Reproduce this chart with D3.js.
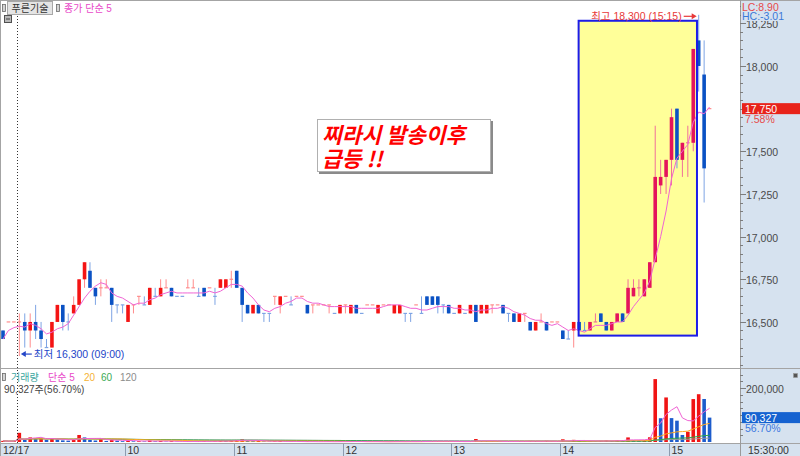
<!DOCTYPE html>
<html><head><meta charset="utf-8">
<script src="https://cdn.jsdelivr.net/npm/d3@7"></script>
<style>
html,body{margin:0;padding:0;background:#fff;}
svg{display:block;font-family:"Liberation Sans","Noto Sans CJK KR",sans-serif;}
</style></head><body>
<svg id="c" width="800" height="456"></svg>
<script>
// ---------- DATA ----------
const times = ["12/16 15:15","12/16 15:18","12/16 15:30",
"09:00","09:03","09:06","09:09","09:12","09:15","09:18","09:21","09:24","09:27","09:30","09:33","09:36","09:39","09:42","09:45","09:48","09:51","09:54","09:57",
"10:00","10:03","10:06","10:09","10:12","10:15","10:18","10:21","10:24","10:27","10:30","10:33","10:36","10:39","10:42","10:45","10:48","10:51","10:54","10:57",
"11:00","11:03","11:06","11:09","11:12","11:15","11:18","11:21","11:24","11:27","11:30","11:33","11:36","11:39","11:42","11:45","11:48","11:51","11:54","11:57",
"12:00","12:03","12:06","12:09","12:12","12:15","12:18","12:21","12:24","12:27","12:30","12:33","12:36","12:39","12:42","12:45","12:48","12:51","12:54","12:57",
"13:00","13:03","13:06","13:09","13:12","13:15","13:18","13:21","13:24","13:27","13:30","13:33","13:36","13:39","13:42","13:45","13:48","13:51","13:54","13:57",
"14:00","14:03","14:06","14:09","14:12","14:15","14:18","14:21","14:24","14:27","14:30","14:33","14:36","14:39","14:42","14:45","14:48","14:51","14:54","14:57",
"15:00","15:03","15:06","15:09","15:12","15:15","15:18","15:30"];

const opens = [16450,16500,16500,
16500,16500,16450,16500,16450,16350,16350,16500,16600,16500,
16550,16600,16750,16800,16700,16700,16700,16700,16600,16600,
16500,16600,16650,16600,16600,16650,16650,16700,16700,16650,
16650,16700,16700,16650,16700,16700,16650,16700,16700,16750,
16800,16700,16600,16550,16600,16550,16550,16650,16600,16650,
16600,16650,16650,16600,16600,16600,16600,16600,16550,16550,
16600,16550,16600,16550,16600,16600,16550,16600,16600,16550,
16550,16550,16550,16600,16550,16650,16650,16650,16600,16600,
16550,16550,16550,16550,16600,16550,16550,16600,16600,16600,
16550,16550,16500,16550,16500,16450,16500,16500,16500,16500,
16450,16400,16450,16500,16450,16450,16500,16550,16500,16450,
16500,16550,16550,16650,16700,16650,16700,16850,17300,17350,
17450,17750,17450,17550,17550,18150,17950,17750];

const highs = [16450,16500,16500,
16550,16550,16550,16600,16500,16400,16500,16600,16600,16550,
16650,16750,16850,16850,16700,16750,16750,16700,16600,16600,
16600,16600,16650,16650,16700,16700,16750,16750,16700,16650,
16650,16750,16750,16700,16700,16700,16700,16750,16750,16800,
16800,16700,16600,16600,16600,16550,16550,16650,16650,16650,
16650,16650,16650,16600,16600,16600,16600,16600,16550,16600,
16600,16600,16600,16550,16600,16600,16600,16600,16600,16600,
16600,16550,16550,16600,16650,16650,16650,16650,16600,16600,
16550,16600,16550,16600,16600,16600,16600,16600,16600,16600,
16550,16550,16550,16550,16500,16500,16550,16500,16500,16500,
16450,16450,16500,16500,16500,16500,16550,16550,16500,16500,
16550,16550,16750,16750,16750,16750,16850,17650,17450,17450,
17750,17750,17550,17650,18100,18300,18150,17750];

const lows = [16400,16500,16500,
16300,16350,16350,16400,16350,16350,16350,16500,16450,16450,
16550,16600,16700,16700,16600,16650,16700,16500,16550,16550,
16500,16550,16600,16600,16600,16650,16650,16700,16650,16650,
16650,16700,16700,16650,16650,16700,16600,16700,16700,16700,
16700,16500,16550,16550,16550,16500,16500,16600,16550,16650,
16600,16650,16650,16550,16550,16600,16600,16550,16550,16550,
16550,16550,16550,16550,16600,16600,16550,16600,16600,16550,
16550,16500,16500,16600,16550,16600,16600,16550,16550,16550,
16550,16550,16550,16550,16500,16550,16550,16550,16600,16550,
16500,16500,16500,16500,16450,16450,16500,16450,16500,16500,
16400,16400,16350,16450,16450,16450,16500,16500,16450,16450,
16500,16500,16550,16650,16650,16650,16700,16850,17250,17250,
17300,17400,17350,17350,17500,17850,17200,17750];

const closes = [16400,16500,16500,
16500,16450,16500,16450,16400,16350,16500,16600,16500,16500,
16600,16750,16850,16700,16650,16700,16700,16600,16600,16600,
16600,16600,16650,16600,16700,16650,16700,16700,16650,16650,
16650,16700,16700,16650,16650,16700,16650,16750,16750,16750,
16700,16600,16550,16600,16550,16550,16550,16650,16650,16650,
16600,16650,16650,16550,16600,16600,16600,16600,16550,16600,
16600,16600,16550,16550,16600,16600,16600,16600,16600,16600,
16600,16550,16550,16600,16550,16600,16600,16600,16600,16550,
16550,16600,16550,16600,16500,16600,16600,16600,16600,16550,
16550,16500,16550,16550,16450,16500,16500,16450,16500,16500,
16400,16400,16500,16450,16450,16500,16500,16500,16450,16500,
16550,16500,16700,16700,16700,16750,16850,17350,17350,17450,
17700,17450,17550,17550,18100,18000,17400,17750];

const volumes = [4200,2100,3500,
34000,9000,17000,12500,14000,8000,13000,9500,6000,5000,
9500,26000,17000,8000,5500,10500,4000,9000,5000,3000,
7000,2500,3000,2000,5500,2500,4000,1500,3000,1000,
1200,2200,1800,2500,3500,1500,2800,4500,3800,5200,
7500,10000,4200,3100,4800,2100,1500,2600,3900,1200,
1700,800,1100,2400,1300,600,900,1400,1000,2200,
1100,1900,2300,1200,700,900,2000,800,600,1800,
2100,1300,1600,900,2500,3200,2800,3500,1500,2600,
800,1900,1200,2400,11000,3400,2900,1500,1100,2800,
1600,3500,2400,1300,4100,3300,1700,4600,1200,1500,
10000,2800,8000,5200,2300,3600,1900,4300,5800,3900,
6200,4800,17000,7000,5000,7200,17500,233000,88000,165000,
88500,79000,26000,38000,159000,177000,159307,90327];

const hourTicks  = ["10:00","11:00","12:00","13:00","14:00","15:00"];
const hourLabels = ["10","11","12","13","14","15"];
const dateLabel = "12/17";
const dayStart = "09:00";
const priceTicks = [16500,16750,17000,17250,17500,17750,18000,18250];
const volTicks = [100000,200000];
const lastPrice = 17750, lastPct = "7.58%";
const lastVol = 90327, lastVolPct = "56.70%";
const lowLabel = {t:"09:00", v:16300, text:"최저 16,300 (09:00)"};
const highLabel = {t:"15:15", v:18300, text:"최고 18,300 (15:15)"};
const box = {from:"14:09", to:"15:15", lo:16420, hi:18265};
const noteLines = ["찌라시 발송이후","급등 !!"];

// ---------- SETUP ----------
const svg = d3.select("#c");
const n = times.length, step = 5.435;
const x = d3.scaleBand().domain(times).range([0.3, 0.3 + step*n]).padding(0);
const bw = x.bandwidth(), bodyW = 3.6;
const cx = t => x(t) + bw/2;
const y = d3.scaleLinear().domain([16236, 18375]).range([367, 2]);
const yv = d3.scaleLinear().domain([0, 200000]).range([442, 388]);
const fmt = d3.format(",");

const data = times.map((t,i)=>({t,i,o:opens[i],h:highs[i],l:lows[i],c:closes[i],v:volumes[i]}));
let prevDir = 1;
data.forEach((d,i)=>{
  let dir;
  if (d.c > d.o) dir = 1; else if (d.c < d.o) dir = -1;
  else { const pc = i>0 ? data[i-1].c : d.c; dir = d.c>pc ? 1 : d.c<pc ? -1 : prevDir; }
  d.dir = dir; prevDir = dir;
  d.vdir = i>0 ? (d.v >= data[i-1].v ? 1 : -1) : 1;
});
const bx1 = cx(box.from) - 0.5, bx2 = x(box.to) + 1;
data.forEach(d=>{ const c = cx(d.t); d.inBox = c > bx1 && c < bx2; });

function sma(arr,p){ return arr.map((_,i)=>d3.mean(arr.slice(Math.max(0,i-p+1), i+1))); }

const BG = "#d6e2ef";
svg.append("rect").attr("x",0).attr("y",0).attr("width",800).attr("height",456).attr("fill","#fff");
svg.append("rect").attr("x",740).attr("y",0).attr("width",60).attr("height",456).attr("fill",BG);
svg.append("rect").attr("x",0).attr("y",443).attr("width",740).attr("height",13).attr("fill",BG);

// highlight box fill
svg.append("rect").attr("x",bx1).attr("y",y(box.hi)).attr("width",bx2-bx1).attr("height",y(box.lo)-y(box.hi))
  .attr("fill","#ffff99");

// candles
const col = d => d.inBox
  ? (d.dir>0 ? {b:"#e4145c", w:"#f0709a"} : {b:"#0b52c4", w:"#6e98e0"})
  : (d.dir>0 ? {b:"#f41414", w:"#ff8c8c"} : {b:"#0b52c4", w:"#7ea4e4"});
const cg = svg.append("g");
data.forEach(d=>{
  const c = cx(d.t), k = col(d);
  if (d.h > d.l) cg.append("line").attr("x1",c).attr("x2",c).attr("y1",y(d.h)).attr("y2",y(d.l))
      .attr("stroke",k.w).attr("stroke-width",1);
  if (d.o === d.c) {
    cg.append("line").attr("x1",c-bodyW/2).attr("x2",c+bodyW/2).attr("y1",y(d.c)).attr("y2",y(d.c))
      .attr("stroke",k.w).attr("stroke-width",1.2);
  } else {
    cg.append("rect").attr("x",c-bodyW/2).attr("width",bodyW)
      .attr("y",y(Math.max(d.o,d.c))).attr("height",Math.abs(y(d.o)-y(d.c)))
      .attr("fill",k.b);
  }
});

// price MA5
const ma5 = sma(closes,5);
svg.append("path").datum(data).attr("fill","none").attr("stroke","#f064d4").attr("stroke-width",1)
  .attr("d", d3.line().x(d=>cx(d.t)).y((d,i)=>y(ma5[i])));

// highlight box border
svg.append("rect").attr("x",bx1).attr("y",y(box.hi)).attr("width",bx2-bx1).attr("height",y(box.lo)-y(box.hi))
  .attr("fill","none").attr("stroke","#1c1ce8").attr("stroke-width",2);

// volume bars
const vg = svg.append("g");
data.forEach(d=>{
  if (d.v<=0) return;
  vg.append("rect").attr("x",cx(d.t)-bodyW/2).attr("width",bodyW)
    .attr("y",yv(d.v)).attr("height",442-yv(d.v))
    .attr("fill", d.vdir>0 ? "#f01414" : "#1d5ccc");
});
[[120,"#9a9a9a"],[60,"#2ea84a"],[20,"#ffaa22"],[5,"#f064d4"]].forEach(([p,c])=>{
  const m = sma(volumes,p);
  svg.append("path").datum(data).attr("fill","none").attr("stroke",c).attr("stroke-width",1)
    .attr("d", d3.line().x(d=>cx(d.t)).y((d,i)=>yv(m[i])));
});

// dotted day line
svg.append("line").attr("x1",Math.round(x(dayStart))+0.5).attr("x2",Math.round(x(dayStart))+0.5)
  .attr("y1",4).attr("y2",443).attr("stroke","#333").attr("stroke-dasharray","1,2");

// panel lines
const L = (x1,y1,x2,y2,c)=>svg.append("line").attr("x1",x1).attr("y1",y1).attr("x2",x2).attr("y2",y2).attr("stroke",c||"#a4a4a4");
L(0,0.5,800,0.5); L(0.5,0,0.5,456); L(0,368.5,800,368.5); L(0,443.5,800,443.5); L(740.5,0,740.5,456,"#9a9a9a");

// price axis ticks
d3.range(16250,18400,50).forEach(v=>{ const yy=Math.round(y(v))+0.5; if(yy>3 && yy<367) L(740,yy,743,yy,"#7d7d7d"); });
priceTicks.forEach(v=>{
  const yy = Math.round(y(v))+0.5;
  L(740,yy,746,yy,"#7d7d7d");
  if (v === lastPrice) return; // covered by the current-price box
  svg.append("text").attr("x",746).attr("y",yy+4).attr("font-size",10.5).attr("fill","#4a4a4a").text(fmt(v));
});
svg.append("rect").attr("x",741).attr("y",1).attr("width",59).attr("height",20).attr("fill",BG);
svg.append("text").attr("x",742).attr("y",10.5).attr("font-size",10.5).attr("fill","#e64a4a").text("LC:8.90");
svg.append("text").attr("x",742).attr("y",20).attr("font-size",10.5).attr("fill","#3a78d8").text("HC:-3.01");
svg.append("rect").attr("x",742).attr("y",y(lastPrice)-5.5).attr("width",58).attr("height",11).attr("fill","#e8231a");
svg.append("text").attr("x",745).attr("y",y(lastPrice)+4).attr("font-size",10.5).attr("fill","#fff").text(fmt(lastPrice));
svg.append("text").attr("x",745).attr("y",y(lastPrice)+14.5).attr("font-size",10.5).attr("fill","#e64a4a").text(lastPct);

// volume axis
d3.range(25000,275000,25000).forEach(v=>{ const yy=Math.round(yv(v))+0.5; if(yy>370) L(740,yy,743,yy,"#7d7d7d"); });
volTicks.forEach(v=>{
  const yy = Math.round(yv(v))+0.5;
  L(740,yy,746,yy,"#7d7d7d");
  if (Math.abs(yv(v)-yv(lastVol)) < 10) return; // covered by the current-volume box
  svg.append("text").attr("x",746).attr("y",yy+4).attr("font-size",10.5).attr("fill","#4a4a4a").text(fmt(v));
});
svg.append("rect").attr("x",742).attr("y",yv(lastVol)-5.5).attr("width",58).attr("height",11).attr("fill","#1562d0");
svg.append("text").attr("x",745).attr("y",yv(lastVol)+4).attr("font-size",10.5).attr("fill","#fff").text(fmt(lastVol));
svg.append("text").attr("x",745).attr("y",yv(lastVol)+14).attr("font-size",10.5).attr("fill","#3a78e0").text(lastVolPct);
svg.append("rect").attr("x",793.5).attr("y",373.5).attr("width",4).attr("height",4).attr("fill","#555").attr("stroke","#999").attr("stroke-width",0.6);

// bottom axis
svg.append("text").attr("x",3).attr("y",454).attr("font-size",10.5).attr("fill","#333").text(dateLabel);
hourTicks.forEach((t,i)=>{
  const xx = Math.round(x(t))+0.5;
  L(xx,444,xx,456,"#8c9cb0");
  svg.append("text").attr("x",xx+2).attr("y",454).attr("font-size",10.5).attr("fill","#333").text(hourLabels[i]);
});
svg.append("text").attr("x",748).attr("y",454).attr("font-size",10.5).attr("fill","#333").text("15:30:00");

// top-left header
const grip = (gx,gy)=>svg.append("rect").attr("x",gx).attr("y",gy).attr("width",3).attr("height",7).attr("fill","#d4d4d4").attr("stroke","#6a6a6a").attr("stroke-width",0.8);
grip(2.5,4.5); grip(56.5,4.5);
svg.append("rect").attr("x",7.5).attr("y",1.5).attr("width",45).attr("height",13).attr("fill","#e4e4e4").attr("stroke","#a8a8a8");
svg.append("text").attr("x",30).attr("y",12).attr("text-anchor","middle").attr("font-size",10).attr("fill","#333").text("푸른기술");
svg.append("text").attr("x",64).attr("y",12).attr("font-size",10).attr("fill","#e848c8").text("종가 단순 5");
svg.append("rect").attr("x",4.5).attr("y",15.5).attr("width",7).attr("height",7).attr("fill","#b8b8b8").attr("stroke","#505050");
L(6,19,10,19,"#444");

// volume legend
grip(2.5,373.5);
const vleg = [["거래량",11,"#3ba6a0"],["단순 5",48,"#e848c8"],["20",84,"#f5b335"],["60",101,"#3aaa55"],["120",120,"#8c8c8c"]];
vleg.forEach(([t,xx,c])=>svg.append("text").attr("x",xx).attr("y",381).attr("font-size",10).attr("fill",c).text(t));
svg.append("text").attr("x",4).attr("y",392.5).attr("font-size",10).attr("fill","#444").text(fmt(lastVol)+"주("+lastVolPct+")");

// high / low labels
const hx = cx(highLabel.t) - 2, hy = y(highLabel.v) + 1.5;
svg.append("path").attr("d",`M${hx-13},${hy} L${hx-4},${hy}`).attr("stroke","#e83838").attr("stroke-width",1.2);
svg.append("path").attr("d",`M${hx},${hy} L${hx-5},${hy-3} L${hx-5},${hy+3} Z`).attr("fill","#e83838");
svg.append("text").attr("x",hx-15).attr("y",hy+4).attr("text-anchor","end").attr("font-size",10.5).attr("fill","#e83838").text(highLabel.text);

const lx = cx(lowLabel.t) + 1.5, ly = y(lowLabel.v) - 2;
svg.append("path").attr("d",`M${lx+4},${ly} L${lx+11},${ly}`).attr("stroke","#2446c8").attr("stroke-width",1.2);
svg.append("path").attr("d",`M${lx},${ly} L${lx+5},${ly-3} L${lx+5},${ly+3} Z`).attr("fill","#2446c8");
svg.append("text").attr("x",lx+13).attr("y",ly+4).attr("font-size",10.5).attr("fill","#2446c8").text(lowLabel.text);

// annotation
svg.append("rect").attr("x",319).attr("y",121).attr("width",174).attr("height",53).attr("fill","#8a8a8a");
svg.append("rect").attr("x",317.5).attr("y",119.5).attr("width",173).attr("height",52).attr("fill","#fff").attr("stroke","#b0b0b0");
noteLines.forEach((t,i)=>svg.append("text").attr("x",322).attr("y",143+i*24)
  .attr("font-family","'Noto Sans CJK KR',sans-serif").attr("font-size",21.5).attr("font-weight","bold")
  .attr("font-style","italic").attr("fill","#ff0000").text(t));
</script>
</body></html>
